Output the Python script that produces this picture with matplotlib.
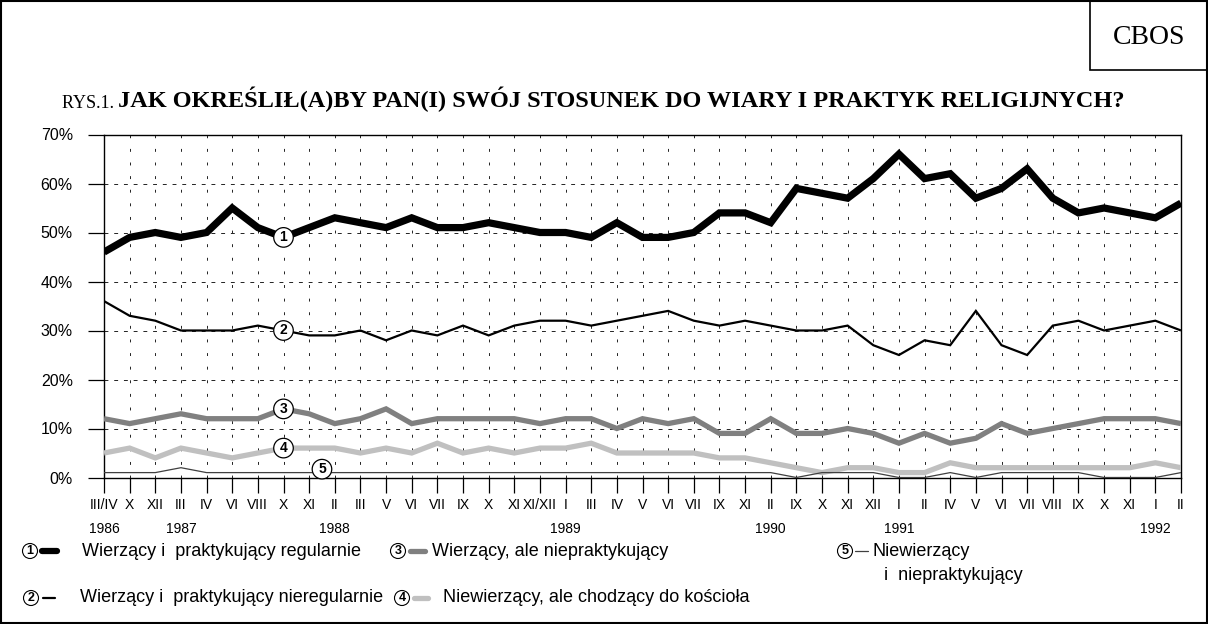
import matplotlib
matplotlib.use("Agg")
import matplotlib.pyplot as plt
from matplotlib.lines import Line2D
from matplotlib.patches import Rectangle

# survey waves (month, roman) and years under them
months = ["III/IV", "X", "XII", "III", "IV", "VI", "VIII", "X", "XI", "II", "III", "V",
          "VI", "VII", "IX", "X", "XI", "XI/XII", "I", "III", "IV", "V", "VI", "VII", "IX",
          "XI", "II", "IX", "X", "XI", "XII", "I", "II", "IV", "V", "VI", "VII", "VIII",
          "IX", "X", "XI", "I", "II"]
year_idx = [0, 3, 9, 18, 26, 31, 41]
year_lab = ["1986", "1987", "1988", "1989", "1990", "1991", "1992"]

# percentages
regular = [46, 49, 50, 49, 50, 55, 51, 49, 51, 53, 52, 51, 53, 51, 51, 52, 51, 50, 50, 49,
           52, 49, 49, 50, 54, 54, 52, 59, 58, 57, 61, 66, 61, 62, 57, 59, 63, 57, 54, 55,
           54, 53, 56]
irregular = [36, 33, 32, 30, 30, 30, 31, 30, 29, 29, 30, 28, 30, 29, 31, 29, 31, 32, 32, 31,
             32, 33, 34, 32, 31, 32, 31, 30, 30, 31, 27, 25, 28, 27, 34, 27, 25, 31, 32, 30,
             31, 32, 30]
nonpract = [12, 11, 12, 13, 12, 12, 12, 14, 13, 11, 12, 14, 11, 12, 12, 12, 12, 11, 12, 12,
            10, 12, 11, 12, 9, 9, 12, 9, 9, 10, 9, 7, 9, 7, 8, 11, 9, 10, 11, 12, 12, 12, 11]
church = [5, 6, 4, 6, 5, 4, 5, 6, 6, 6, 5, 6, 5, 7, 5, 6, 5, 6, 6, 7, 5, 5, 5, 5, 4, 4, 3, 2,
          1, 2, 2, 1, 1, 3, 2, 2, 2, 2, 2, 2, 2, 3, 2]
nonbel = [1, 1, 1, 2, 1, 1, 1, 1, 1, 1, 1, 1, 1, 1, 1, 1, 1, 1, 1, 1, 1, 1, 1, 1, 1, 1, 1, 0,
          1, 1, 1, 0, 0, 1, 0, 1, 1, 1, 1, 0, 0, 0, 1]

legend_txt = ["Wierzący i  praktykujący regularnie",
              "Wierzący i  praktykujący nieregularnie",
              "Wierzący, ale niepraktykujący",
              "Niewierzący, ale chodzący do kościoła",
              "Niewierzący"]

W, H = 1208, 624
SANS = ["Liberation Sans", "DejaVu Sans"]
SERIF = ["Liberation Serif", "DejaVu Serif"]


def px(x, y):
    return x / W, 1 - y / H


fig = plt.figure(figsize=(W / 100, H / 100), dpi=100)
ax = fig.add_axes([104 / W, 1 - 477.5 / H, (1181 - 104) / W, (477.5 - 134.5) / H])

x = list(range(len(months)))
styles = [  # data, colour, width, zorder
    (church, "#c0c0c0", 3.8, 3),
    (nonpract, "#808080", 3.8, 4),
    (nonbel, "#404040", 0.9, 5),
    (irregular, "black", 1.6, 6),
    (regular, "black", 5.2, 7),
]
for data, col, lw, z in styles:
    ax.plot(x, [v / 100 for v in data], color=col, lw=lw, zorder=z,
            solid_joinstyle="miter", solid_capstyle="butt")

ax.set_xlim(0, len(months) - 1)
ax.set_ylim(0, 0.7)
ax.set_yticks([i / 10 for i in range(8)])
ax.set_yticklabels([f"{i * 10}%" for i in range(8)], family=SANS, fontsize=11.5)
ax.set_xticks(x)
ax.set_xticklabels(months, family=SANS, fontsize=10)
ax.tick_params(axis="y", direction="out", length=11.5, pad=11, width=0.9)
ax.tick_params(axis="x", direction="out", length=10.5, pad=4, width=0.9)
for s in ax.spines.values():
    s.set_linewidth(1.0)

ax.grid(axis="y", linestyle=(0, (4, 6)), color="#222222", lw=0.7, zorder=1)
ax.grid(axis="x", linestyle=(0, (3, 11)), color="#222222", lw=0.7, zorder=1)

for i, lab in zip(year_idx, year_lab):
    ax.text(i, -0.15, lab, transform=ax.get_xaxis_transform(), ha="center",
            va="center", family=SANS, fontsize=10)

# circled markers on the lines
marks = [("1", 7, 0.49), ("2", 7, 0.30), ("3", 7, 0.14), ("4", 7, 0.06), ("5", 8.5, 0.017)]
for t, mx, my in marks:
    ax.text(mx, my, t, ha="center", va="center", fontsize=10, fontweight="bold",
            family=SANS, zorder=10,
            bbox=dict(boxstyle="circle,pad=0.2", fc="white", ec="black", lw=0.9))

# title
t1 = fig.text(*px(62, 112), "RYS.1. ", family=SERIF, fontsize=13, va="bottom")
fig.axes[0].annotate("JAK OKREŚLIŁ(A)BY PAN(I) SWÓJ STOSUNEK DO WIARY I PRAKTYK RELIGIJNYCH?",
                     xy=(1, 0), xycoords=t1, va="bottom", ha="left", family=SERIF,
                     fontsize=17.5, fontweight="bold", annotation_clip=False)

# CBOS box and frame
fig.patches.append(Rectangle(px(1090, 70), 118 / W, 70 / H, transform=fig.transFigure,
                             fill=False, ec="black", lw=1.2))
fig.text(*px(1149, 37), "CBOS", family=SERIF, fontsize=20, ha="center", va="center")
fig.patches.append(Rectangle((0.001, 0.0015), 0.998, 0.997, transform=fig.transFigure,
                             fill=False, ec="black", lw=1.5))

# legend
leg = [  # circle x, y, line x0, x1, text x
    (30, 551, 42, 57, 82),
    (31, 598, 43, 55, 80),
    (398, 551, 410, 425, 432),
    (402, 598, 414, 428, 443),
    (845, 551, 855, 868, 872),
]
for k, (cx, cy, l0, l1, tx) in enumerate(leg):
    data, col, lw, z = styles[[4, 3, 1, 0, 2][k]]
    fig.text(*px(cx, cy), str(k + 1), ha="center", va="center", fontsize=9,
             fontweight="bold", family=SANS,
             bbox=dict(boxstyle="circle,pad=0.12", fc="white", ec="black", lw=0.8))
    fig.lines.append(Line2D([l0 / W, l1 / W], [1 - cy / H] * 2, transform=fig.transFigure,
                            color=col, lw=min(lw, 4.5), solid_capstyle="round"))
    fig.text(*px(tx, cy), legend_txt[k], ha="left", va="center", fontsize=13, family=SANS)
fig.text(*px(884, 576), "i  niepraktykujący", ha="left", va="center", fontsize=13,
         family=SANS)

fig.savefig("out.png", dpi=100)
